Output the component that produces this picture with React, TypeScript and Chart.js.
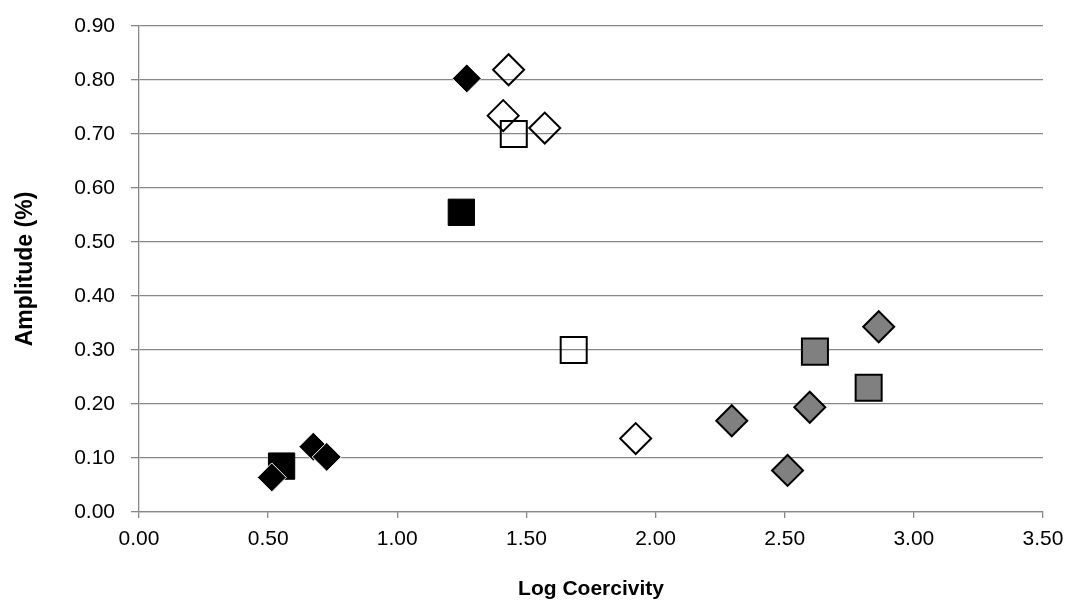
import React, { useEffect, useRef } from "react";
import { Chart, registerables } from "chart.js";

Chart.register(...registerables);

// Data
const blackDiamondsX = [0.514, 0.675, 0.727, 1.269];
const blackDiamondsY = [0.064, 0.121, 0.102, 0.803];
const blackSquaresX = [0.552, 1.248];
const blackSquaresY = [0.085, 0.555];
const whiteDiamondsX = [1.431, 1.41, 1.571, 1.923];
const whiteDiamondsY = [0.819, 0.734, 0.711, 0.136];
const whiteSquaresX = [1.451, 1.683];
const whiteSquaresY = [0.7, 0.3];
const grayDiamondsX = [2.295, 2.597, 2.511, 2.864];
const grayDiamondsY = [0.169, 0.194, 0.077, 0.343];
const graySquaresX = [2.617, 2.825];
const graySquaresY = [0.297, 0.23];

const xTitle = "Log Coercivity";
const yTitle = "Amplitude (%)";

const toPts = (xs: number[], ys: number[]) => xs.map((x, i) => ({ x, y: ys[i] }));

export default function App() {
  const ref = useRef<HTMLCanvasElement | null>(null);

  useEffect(() => {
    if (!ref.current) return;
    const font = "'Liberation Sans', Arial, sans-serif";
    const gridColor = "#878787";
    const chart = new Chart(ref.current, {
      type: "scatter",
      data: {
        datasets: [
          {
            data: toPts(blackDiamondsX, blackDiamondsY),
            pointStyle: "rectRot",
            pointRadius: 14.5,
            backgroundColor: "#000000",
            borderColor: "#ffffff",
            borderWidth: 1,
          },
          {
            data: toPts(blackSquaresX, blackSquaresY),
            pointStyle: "rect",
            pointRadius: 18.6,
            backgroundColor: "#000000",
            borderColor: "#000000",
            borderWidth: 1,
          },
          {
            data: toPts(whiteDiamondsX, whiteDiamondsY),
            pointStyle: "rectRot",
            pointRadius: 15.5,
            backgroundColor: "rgba(0,0,0,0)",
            borderColor: "#000000",
            borderWidth: 2,
          },
          {
            data: toPts(whiteSquaresX, whiteSquaresY),
            pointStyle: "rect",
            pointRadius: 18.4,
            backgroundColor: "rgba(0,0,0,0)",
            borderColor: "#000000",
            borderWidth: 2,
          },
          {
            data: toPts(grayDiamondsX, grayDiamondsY),
            pointStyle: "rectRot",
            pointRadius: 15.5,
            backgroundColor: "#808080",
            borderColor: "#000000",
            borderWidth: 2,
          },
          {
            data: toPts(graySquaresX, graySquaresY),
            pointStyle: "rect",
            pointRadius: 18.4,
            backgroundColor: "#808080",
            borderColor: "#000000",
            borderWidth: 2,
          },
        ],
      },
      options: {
        responsive: false,
        animation: false,
        devicePixelRatio: 1,
        layout: { padding: { top: 26, right: 30, left: 0, bottom: 0 } },
        plugins: { legend: { display: false }, tooltip: { enabled: false } },
        scales: {
          x: {
            type: "linear",
            min: 0,
            max: 3.5,
            afterFit: (s: any) => {
              s.height = 92;
              s.paddingLeft = 0;
              s.paddingRight = 0;
            },
            ticks: {
              stepSize: 0.5,
              padding: 9,
              color: "#000",
              font: { family: font, size: 21 },
              callback: (v: any) => Number(v).toFixed(2),
            },
            grid: {
              drawOnChartArea: false,
              drawTicks: true,
              tickLength: 6,
              color: gridColor,
              lineWidth: 1.3,
            },
            border: { color: gridColor, width: 1.3 },
            title: {
              display: true,
              text: xTitle,
              color: "#000",
              font: { family: font, size: 21, weight: "bold" },
              padding: { top: 4, bottom: 2 },
            },
          },
          y: {
            type: "linear",
            min: 0,
            max: 0.9,
            afterFit: (s: any) => {
              s.width = 139;
              s.paddingTop = 0;
              s.paddingBottom = 0;
            },
            ticks: {
              stepSize: 0.1,
              padding: 16,
              color: "#000",
              font: { family: font, size: 21 },
              callback: (v: any) => Number(v).toFixed(2),
            },
            grid: {
              drawTicks: true,
              tickLength: 8,
              color: gridColor,
              lineWidth: 1.3,
            },
            border: { color: gridColor, width: 1.3 },
            title: {
              display: true,
              text: yTitle,
              color: "#000",
              font: { family: font, size: 23, weight: "bold" },
              padding: { top: 12, bottom: 4 },
            },
          },
        },
      },
    } as any);
    return () => chart.destroy();
  }, []);

  return (
    <div style={{ position: "absolute", left: 0, top: 0, width: 1073, height: 604, background: "#fff" }}>
      <canvas ref={ref} width={1073} height={604} style={{ display: "block", width: 1073, height: 604 }} />
    </div>
  );
}
